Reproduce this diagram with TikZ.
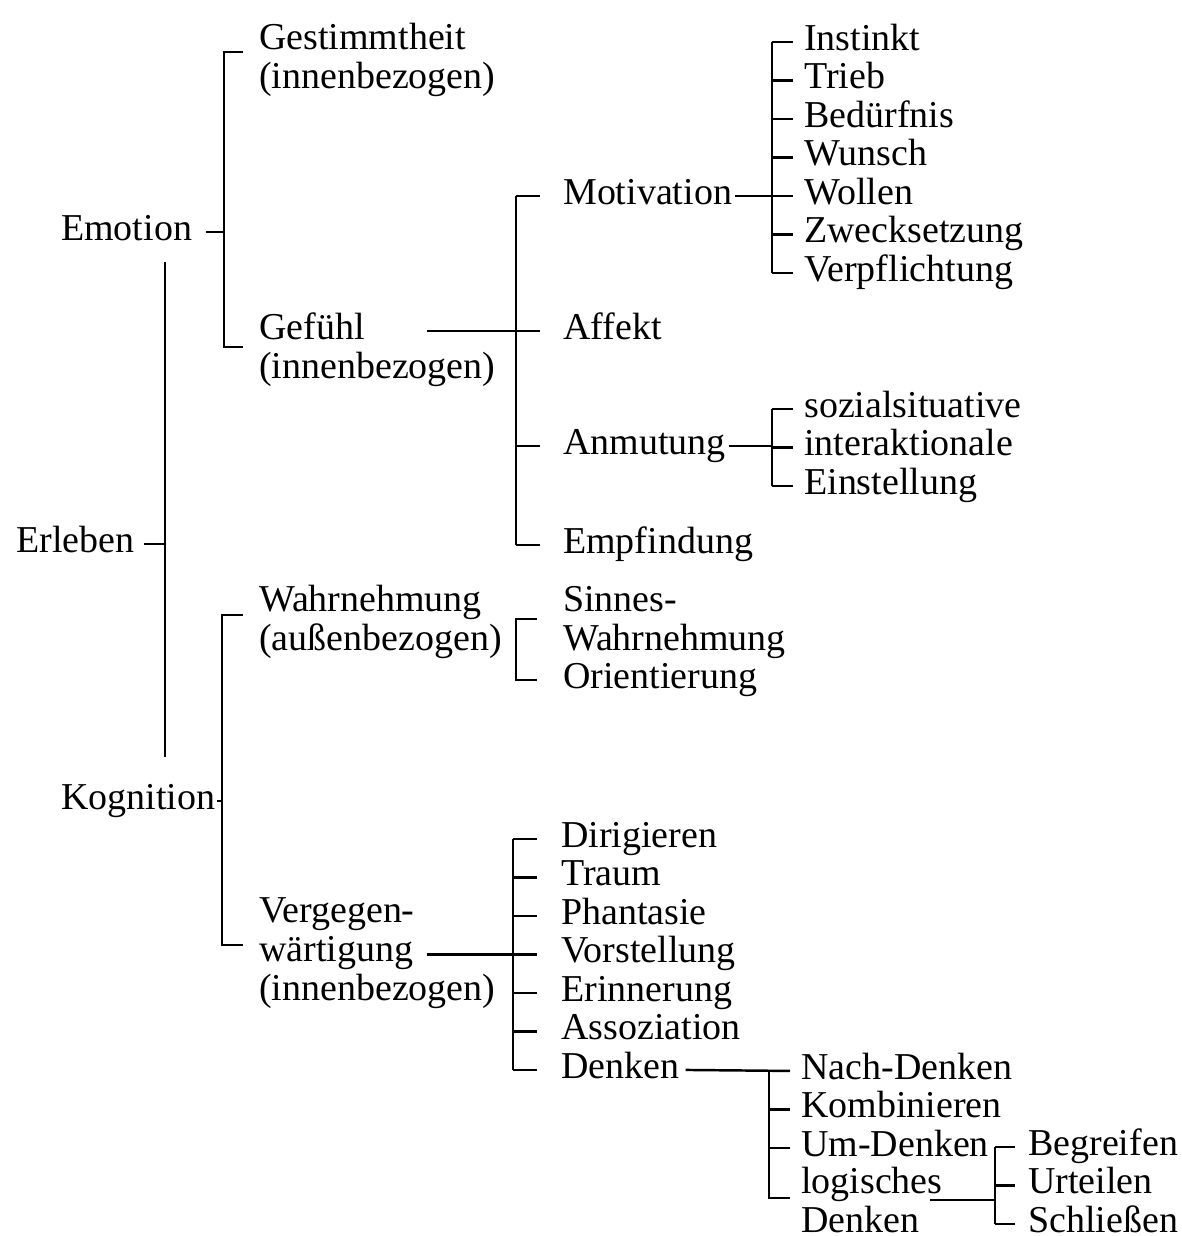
\documentclass[tikz,border=0pt]{standalone}
\usepackage{fontspec}
\setmainfont{Liberation Serif}
\begin{document}
\begin{tikzpicture}[x=0.01cm,y=-0.01cm,line width=0.7pt,
  lab/.style={anchor=base west,inner sep=0pt,align=left,font=\fontsize{10.8}{10.96}\selectfont}]
\useasboundingbox (0,0) rectangle (1181,1236);
% Stufe 1
\node[lab] (erl) at (15,552) {Erleben};
\node[lab] (emo) at (60,240) {Emotion};
\node[lab] (kog) at (60,809) {Kognition};
% Stufe 2 (base = letzte Zeile)
\node[lab] (ges) at (258,88) {Gestimmtheit\\(innenbezogen)};
\node[lab] (gef) at (258,378) {Gefühl\\(innenbezogen)};
\node[lab] (wah) at (258,650) {Wahrnehmung\\(außenbezogen)};
\node[lab] (ver) at (258,1000) {Vergegen-\\wärtigung\\(innenbezogen)};
% Stufe 3
\node[lab] (mot) at (562,204) {Motivation};
\node[lab] (aff) at (562,339) {Affekt};
\node[lab] (anm) at (562,454) {Anmutung};
\node[lab] (emp) at (562,553) {Empfindung};
\node[lab] (sin) at (562,650) {Sinnes-\\Wahrnehmung};
\node[lab] (ori) at (562,688) {Orientierung};
\foreach \t [count=\i from 0] in {Dirigieren,Traum,Phantasie,Vorstellung,Erinnerung,Assoziation,Denken}
  \node[lab] (g\i) at (560,{847+38.5*\i}) {\t};
% Stufe 4
\foreach \t [count=\i from 0] in {Instinkt,Trieb,Bedürfnis,Wunsch,Wollen,Zwecksetzung,Verpflichtung}
  \node[lab] (m\i) at (803,{50+38.5*\i}) {\t};
\foreach \t [count=\i from 0] in {sozialsituative,interaktionale,Einstellung}
  \node[lab] (a\i) at (803,{417+38.5*\i}) {\t};
\foreach \t [count=\i from 0] in {Nach-Denken,Kombinieren,Um-Denken}
  \node[lab] (d\i) at (800,{1079+38.5*\i}) {\t};
\node[lab] (lod) at (800,1232) {logisches\\Denken};
\foreach \t [count=\i from 0] in {Begreifen,Urteilen,Schließen}
  \node[lab] (l\i) at (1027,{1155+38.5*\i}) {\t};
% Erleben
\coordinate (v0t) at (165,262); \coordinate (v0b) at (165,757);
\draw (v0t) -- (v0b);
\draw (erl.mid east) ++(8,0) -- (erl.mid east -| v0t);
% Emotion
\coordinate (v1t) at (224,52); \coordinate (v1b) at (224,347);
\draw ([xshift=-0.15cm]v1t -| ges.west) -- (v1t) -- (v1b) -- ([xshift=-0.15cm]v1b -| gef.west);
\draw (emo.mid east) ++(13,0) -- (emo.mid east -| v1t);
% Kognition
\coordinate (v2t) at (222,615); \coordinate (v2b) at (222,945);
\draw ([xshift=-0.15cm]v2t -| wah.west) -- (v2t) -- (v2b) -- ([xshift=-0.15cm]v2b -| ver.west);
\draw (kog.mid east) ++(1,0) -- (kog.mid east -| v2t);
% Gefuehl
\coordinate (v3) at (516,0);
\draw (mot.mid west -| v3) -- (emp.mid west -| v3);
\foreach \n in {mot,aff,anm,emp} \draw ([xshift=-0.22cm]\n.mid west) -- (\n.mid west -| v3);
\draw ([xshift=-0.7cm]aff.mid west -| gef.east) -- (aff.mid west -| v3);
% Motivation
\coordinate (v4) at (772,0);
\draw (m0.mid west -| v4) -- (m6.mid west -| v4);
\foreach \i in {0,...,6} \draw ([xshift=-0.1cm]m\i.mid west) -- (m\i.mid west -| v4);
\draw ([xshift=0.02cm]mot.mid east) -- (mot.mid east -| v4);
% Anmutung
\draw (a0.mid west -| v4) -- (a2.mid west -| v4);
\foreach \i in {0,1,2} \draw ([xshift=-0.1cm]a\i.mid west) -- (a\i.mid west -| v4);
\draw ([xshift=0.02cm]anm.mid east) -- (anm.mid east -| v4);
% Wahrnehmung
\coordinate (v6t) at (516,619);
\draw ([xshift=-0.25cm]v6t -| sin.west) -- (v6t) -- (v6t |- ori.mid west) -- ([xshift=-0.25cm]ori.mid west);
% Vergegenwaertigung
\coordinate (v7) at (513,0);
\draw (g0.mid west -| v7) -- (g6.mid west -| v7);
\foreach \i in {0,...,6} \draw ([xshift=-0.23cm]g\i.mid west) -- (g\i.mid west -| v7);
\draw ([xshift=-0.7cm]g3.mid west -| ver.east) -- (g3.mid west -| v7);
% Denken
\coordinate (v8b) at (769,1198);
\draw ([xshift=0.05cm]g6.mid east) -- ([xshift=-0.1cm]d0.mid west);
\draw (v8b |- d0.mid west) -- (v8b) -- ([xshift=-0.1cm]v8b -| lod.west);
\foreach \i in {1,2} \draw ([xshift=-0.1cm]d\i.mid west) -- (d\i.mid west -| v8b);
% logisches Denken
\coordinate (v9) at (995,1200);
\draw (l0.mid west -| v9) -- (l2.mid west -| v9);
\foreach \i in {0,1,2} \draw ([xshift=-0.12cm]l\i.mid west) -- (l\i.mid west -| v9);
\draw ([xshift=1.3cm]v9 -| lod.west) -- (v9);
\end{tikzpicture}
\end{document}
